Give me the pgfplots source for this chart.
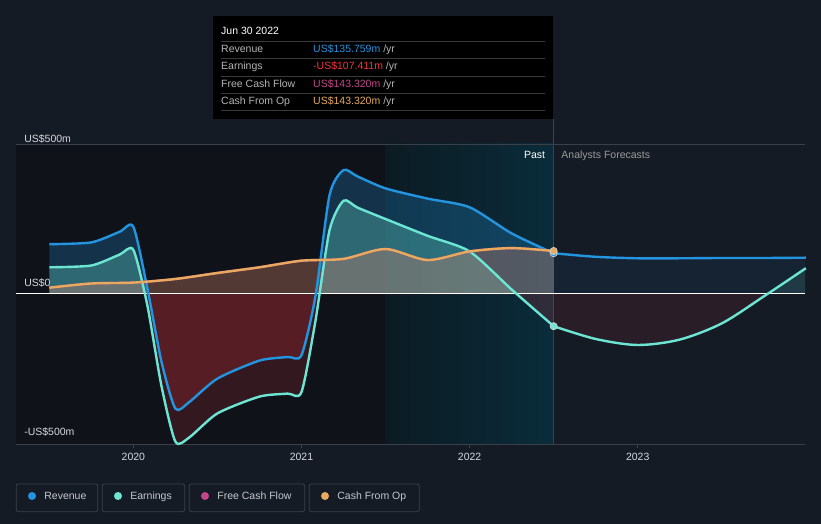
\documentclass[border=0pt]{standalone}
\usepackage{fontspec}
\setmainfont{Liberation Sans}
\usepackage{pgfplots}
\usepackage{pgfplotstable}
\pgfplotsset{compat=1.18}
\definecolor{bg}{HTML}{151B25}
\definecolor{pastbg}{HTML}{0F1319}
\definecolor{bandL}{HTML}{0C1B23}
\definecolor{bandR}{HTML}{0A2C3A}
\definecolor{rev}{HTML}{2394DF}
\definecolor{earn}{HTML}{6CE6D2}
\definecolor{fcf}{HTML}{C2458A}
\definecolor{cfo}{HTML}{E8AA5C}
\definecolor{neg}{HTML}{E0343E}
\definecolor{gridc}{HTML}{3A404A}
\definecolor{txt}{HTML}{D5D8DC}
\definecolor{legtxt}{HTML}{C4C8CD}
\definecolor{vline}{HTML}{18506A}
\definecolor{sep}{HTML}{3A3A3A}
\definecolor{yr}{HTML}{B4B4B4}
\definecolor{earnred}{HTML}{F0353F}
\newcommand\f{\fontsize{10.5}{12}\selectfont}

% Revenue and earnings, past (US$m)
\pgfplotstableread{
x rev earn
2019.500 166 89
2019.750 172 95
2019.917 207 131
2020.000 224 147
2020.083 20 -37
2020.167 -225 -306
2020.250 -382 -492
2020.333 -360 -478
2020.500 -282 -398
2020.750 -222 -342
2020.917 -210 -332
2021.000 -204 -327
2021.083 -8 -90
2021.167 330 213
2021.250 413 311
2021.333 392 288
2021.500 352 250
2021.750 318 194
2022.000 289 142
2022.250 202 15
2022.500 135.8 -107.4
}\pasttab
% Cash from operations / free cash flow, past (US$m)
\pgfplotstableread{
x cfo
2019.50 21
2019.75 35
2020.00 38
2020.25 50
2020.50 70
2020.75 89
2021.00 111
2021.25 117
2021.50 150
2021.75 113
2022.00 142
2022.25 153
2022.50 143.3
}\cfotab
% Analyst forecasts (US$m)
\pgfplotstableread{
x rev earn
2022.50 135.8 -107.4
2022.75 124 -150
2023.00 119 -170
2023.25 119 -152
2023.50 120 -98
2023.75 120 -8
2024.00 121 86
}\foretab

\pgfplotsset{
  base/.style={scale only axis, width=789pt,
    xmin=2019.302, xmax=2023.995, hide axis, clip=true},
  curve/.style={smooth, tension=0.42},
  ccurve/.style={smooth, tension=0.45},
  fcurve/.style={smooth, tension=0.5},
}

\begin{document}
\begin{tikzpicture}[x=1pt,y=1pt]
% background
\fill[bg] (0,0) rectangle (821,524);
\fill[pastbg] (16,80) rectangle (385.5,380);
\shade[left color=bandL, right color=bandR] (385.5,80) rectangle (553.6,380);
\draw[vline, line width=1pt] (553.6,80) -- (553.6,405);
\draw[gridc, line width=0.8pt] (16,380) -- (805,380);
\draw[gridc, line width=0.8pt] (16,80) -- (805,80);

% positive fills
\begin{axis}[base, at={(16pt,230pt)}, anchor=south west, height=150pt, ymin=0, ymax=500]
\addplot[curve, draw=none, fill=rev, fill opacity=0.25] table[x=x,y=rev]{\pasttab} \closedcycle;
\addplot[curve, draw=none, fill=earn, fill opacity=0.3] table[x=x,y=earn]{\pasttab} \closedcycle;
\addplot[ccurve, draw=none, fill=fcf, fill opacity=0.15] table[x=x,y=cfo]{\cfotab} \closedcycle;
\addplot[ccurve, draw=none, fill=cfo, fill opacity=0.22] table[x=x,y=cfo]{\cfotab} \closedcycle;
\addplot[fcurve, draw=none, fill=rev, fill opacity=0.07] table[x=x,y=rev]{\foretab} \closedcycle;
\addplot[fcurve, draw=none, fill=earn, fill opacity=0.12] table[x=x,y=earn]{\foretab} \closedcycle;
\end{axis}
% negative fills
\begin{axis}[base, at={(16pt,80pt)}, anchor=south west, height=150pt, ymin=-500, ymax=0]
\addplot[curve, draw=none, fill=neg, fill opacity=0.2] table[x=x,y=rev]{\pasttab} \closedcycle;
\addplot[curve, draw=none, fill=neg, fill opacity=0.18] table[x=x,y=earn]{\pasttab} \closedcycle;
\addplot[fcurve, draw=none, fill=neg, fill opacity=0.1] table[x=x,y=earn]{\foretab} \closedcycle;
\end{axis}

\begin{axis}[
  at={(16pt,80pt)}, anchor=south west,
  scale only axis, width=789pt, height=300pt,
  xmin=2019.302, xmax=2023.995, ymin=-500, ymax=500,
  axis line style={draw=none},
  ytick=\empty,
  xtick={2020,2021,2022,2023},
  xticklabels={2020,2021,2022,2023},
  xtick pos=left, xtick align=outside,
  major tick length=4pt,
  tick style={gridc, line width=0.8pt},
  xticklabel style={font=\f, color=txt, inner sep=0pt, anchor=north, yshift=-5pt},
  /pgf/number format/assume math mode=true,
  clip=false,
]
% zero line
\draw[white, line width=1pt] (axis cs:2019.302,0) -- (axis cs:2023.995,0);

% lines
\addplot[curve, rev, line width=2.4pt] table[x=x,y=rev]{\pasttab};
\addplot[fcurve, rev, line width=2.4pt] table[x=x,y=rev]{\foretab};
\addplot[curve, earn, line width=2.4pt] table[x=x,y=earn]{\pasttab};
\addplot[fcurve, earn, line width=2.4pt] table[x=x,y=earn]{\foretab};
\addplot[ccurve, fcf, line width=2.4pt] table[x=x,y=cfo]{\cfotab};
\addplot[ccurve, cfo, line width=2.4pt] table[x=x,y=cfo]{\cfotab};

% markers
\addplot[only marks, mark=*, mark size=3.6pt, mark options={fill=rev, draw=white!85!black, line width=0.6pt}] coordinates {(2022.5,135.8)};
\addplot[only marks, mark=*, mark size=3.6pt, mark options={fill=cfo, draw=white!85!black, line width=0.6pt}] coordinates {(2022.5,143.3)};
\addplot[only marks, mark=*, mark size=3.6pt, mark options={fill=earn, draw=white!85!black, line width=0.6pt}] coordinates {(2022.5,-107.4)};

% y labels
\node[anchor=base west, inner sep=0pt, font=\f, text=txt] at (axis cs:2019.35,506) {US\$500m};
\node[anchor=base west, inner sep=0pt, font=\f, text=txt] at (axis cs:2019.35,26) {US\$0};
\node[anchor=base west, inner sep=0pt, font=\f, text=txt] at (axis cs:2019.35,-473) {-US\$500m};
\node[anchor=base east, inner sep=0pt, font=\f, text=white] at (axis cs:2022.45,453) {Past};
\node[anchor=base west, inner sep=0pt, font=\f, text=yr!85!black] at (axis cs:2022.545,453) {Analysts Forecasts};
\end{axis}

% tooltip
\fill[black] (213,405) rectangle (553,508);
\node[anchor=base west, inner sep=0pt, font=\f, text=white] at (221,489) {Jun 30 2022};
\foreach \yy in {482.7,465.7,447.7,430.7,413.3} \draw[sep, line width=0.8pt] (221,\yy) -- (545,\yy);
\node[anchor=base west, inner sep=0pt, font=\f, text=yr] at (221,471) {Revenue};
\node[anchor=base west, inner sep=0pt, font=\f, text=yr] at (221,454) {Earnings};
\node[anchor=base west, inner sep=0pt, font=\f, text=yr] at (221,436.5) {Free Cash Flow};
\node[anchor=base west, inner sep=0pt, font=\f, text=yr] at (221,419.5) {Cash From Op};
\node[anchor=base west, inner sep=0pt, font=\f] at (313,471) {\textcolor{rev}{US\$135.759m} \textcolor{yr}{/yr}};
\node[anchor=base west, inner sep=0pt, font=\f] at (313,454) {\textcolor{earnred}{-US\$107.411m} \textcolor{yr}{/yr}};
\node[anchor=base west, inner sep=0pt, font=\f] at (313,436.5) {\textcolor{fcf}{US\$143.320m} \textcolor{yr}{/yr}};
\node[anchor=base west, inner sep=0pt, font=\f] at (313,419.5) {\textcolor{cfo}{US\$143.320m} \textcolor{yr}{/yr}};

% legend
\begin{scope}[line width=0.8pt]
\draw[gridc, rounded corners=2pt] (16.3,12.3) rectangle (97.7,40);
\draw[gridc, rounded corners=2pt] (102.3,12.3) rectangle (184.7,40);
\draw[gridc, rounded corners=2pt] (189.3,12.3) rectangle (304.7,40);
\draw[gridc, rounded corners=2pt] (309.3,12.3) rectangle (419.3,40);
\fill[rev] (32,28) circle (4);
\fill[earn] (118,28) circle (4);
\fill[fcf] (205,28) circle (4);
\fill[cfo] (325,28) circle (4);
\node[anchor=base west, inner sep=0pt, font=\f, text=legtxt] at (44,24) {Revenue};
\node[anchor=base west, inner sep=0pt, font=\f, text=legtxt] at (130,24) {Earnings};
\node[anchor=base west, inner sep=0pt, font=\f, text=legtxt] at (217,24) {Free Cash Flow};
\node[anchor=base west, inner sep=0pt, font=\f, text=legtxt] at (337,24) {Cash From Op};
\end{scope}
\end{tikzpicture}
\end{document}
